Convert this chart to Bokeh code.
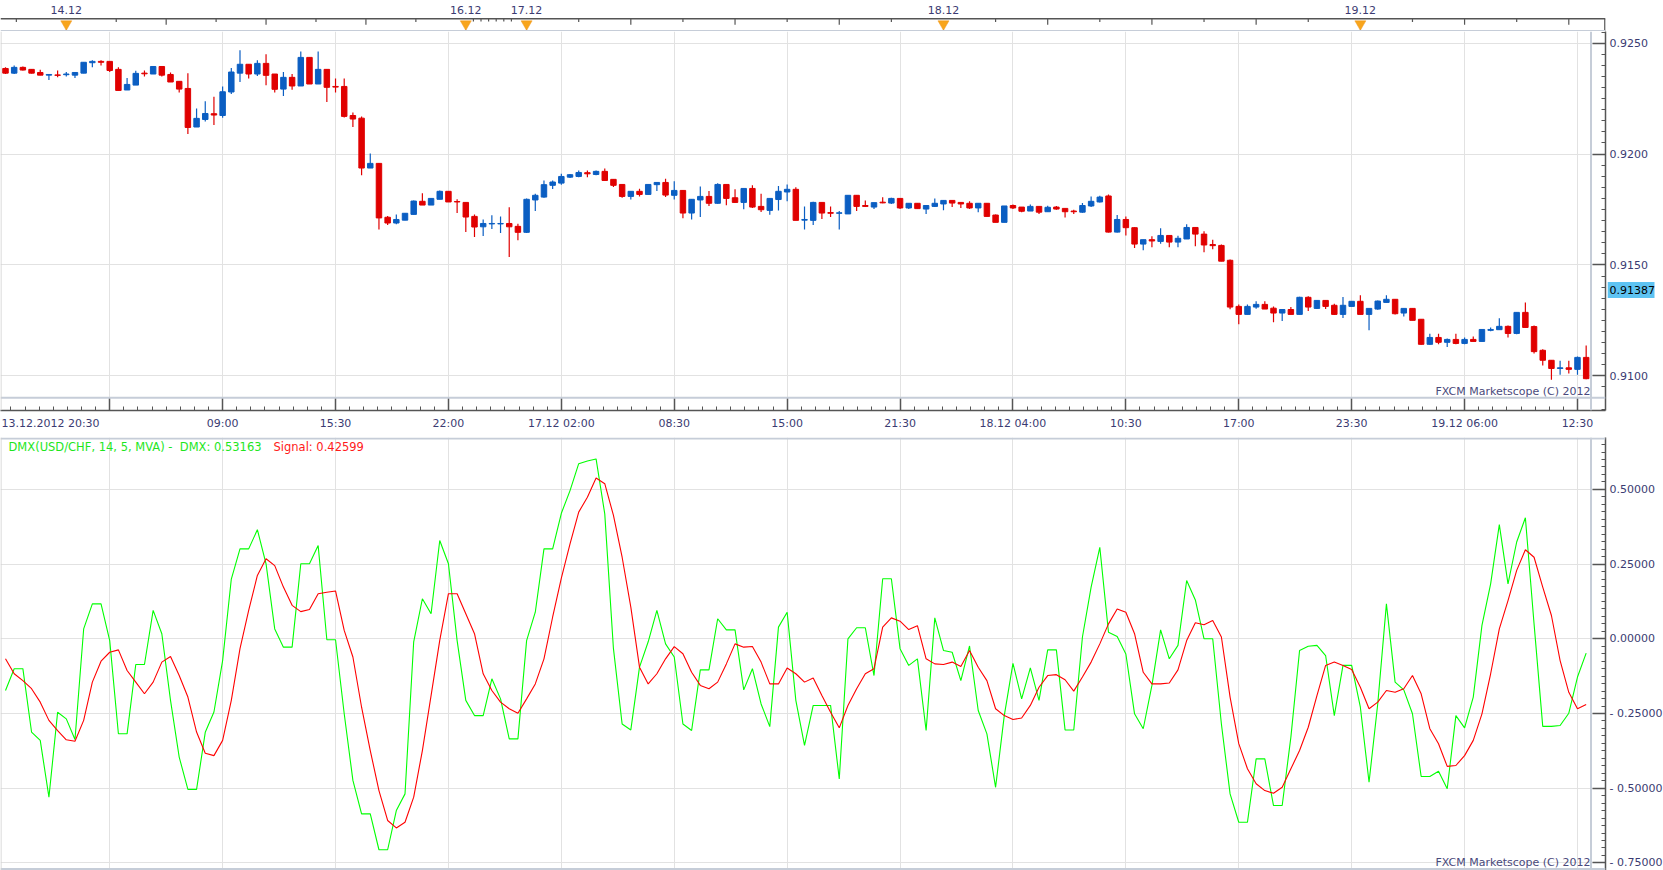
import numpy as np
from bokeh.plotting import figure
from bokeh.layouts import column, row
from bokeh.models import (Range1d, FixedTicker, Span, Label, ColumnDataSource, LinearAxis)
from bokeh.core.properties import value
from bokeh.embed import file_html
from bokeh.resources import INLINE

# ---------------- data (USD/CHF 30-min candles, 13.12.2012 20:30 ... 19.12.2012 13:00) ----------------
opens = [0.92386, 0.92365, 0.92391, 0.92382, 0.92368, 0.92356, 0.92357, 0.92358, 0.92356, 0.92365,
         0.92412, 0.92418, 0.92418, 0.92382, 0.92289, 0.92311, 0.92365, 0.92361, 0.92395, 0.92359,
         0.92328, 0.92296, 0.92122, 0.92156, 0.92182, 0.92174, 0.92280, 0.92365, 0.92405, 0.92361,
         0.92409, 0.92361, 0.92293, 0.92346, 0.92307, 0.92436, 0.92316, 0.92382, 0.92305, 0.92305,
         0.92174, 0.92162, 0.91937, 0.91958, 0.91715, 0.91689, 0.91702, 0.91728, 0.91787, 0.91770,
         0.91796, 0.91832, 0.91786, 0.91782, 0.91719, 0.91672, 0.91685, 0.91685, 0.91687, 0.91674,
         0.91647, 0.91793, 0.91806, 0.91859, 0.91869, 0.91896, 0.91899, 0.91916, 0.91908, 0.91922,
         0.91886, 0.91863, 0.91809, 0.91832, 0.91818, 0.91862, 0.91872, 0.91814, 0.91836, 0.91734,
         0.91793, 0.91809, 0.91778, 0.91863, 0.91803, 0.91782, 0.91845, 0.91764, 0.91746, 0.91795,
         0.91829, 0.91841, 0.91702, 0.91701, 0.91782, 0.91736, 0.91733, 0.91730, 0.91814, 0.91768,
         0.91761, 0.91783, 0.91779, 0.91800, 0.91757, 0.91778, 0.91752, 0.91764, 0.91775, 0.91791,
         0.91782, 0.91778, 0.91757, 0.91778, 0.91725, 0.91692, 0.91768, 0.91761, 0.91743, 0.91764,
         0.91740, 0.91761, 0.91755, 0.91743, 0.91738, 0.91766, 0.91784, 0.91811, 0.91648, 0.91705,
         0.91668, 0.91594, 0.91614, 0.91606, 0.91633, 0.91603, 0.91617, 0.91669, 0.91639, 0.91592,
         0.91588, 0.91521, 0.91313, 0.91277, 0.91310, 0.91322, 0.91305, 0.91283, 0.91299, 0.91277,
         0.91354, 0.91304, 0.91340, 0.91318, 0.91277, 0.91313, 0.91336, 0.91277, 0.91301, 0.91331,
         0.91345, 0.91283, 0.91304, 0.91255, 0.91142, 0.91173, 0.91151, 0.91164, 0.91146, 0.91164,
         0.91155, 0.91205, 0.91208, 0.91223, 0.91191, 0.91286, 0.91222, 0.91115, 0.91070, 0.91033,
         0.91036, 0.91029, 0.91083]
highs = [0.92392, 0.92400, 0.92395, 0.92384, 0.92380, 0.92359, 0.92377, 0.92370, 0.92368, 0.92414,
         0.92423, 0.92423, 0.92418, 0.92391, 0.92343, 0.92376, 0.92377, 0.92395, 0.92395, 0.92368,
         0.92328, 0.92365, 0.92206, 0.92238, 0.92259, 0.92305, 0.92388, 0.92468, 0.92405, 0.92423,
         0.92450, 0.92361, 0.92370, 0.92361, 0.92463, 0.92436, 0.92463, 0.92382, 0.92341, 0.92341,
         0.92188, 0.92170, 0.92003, 0.91960, 0.91721, 0.91728, 0.91733, 0.91791, 0.91823, 0.91800,
         0.91836, 0.91832, 0.91796, 0.91782, 0.91728, 0.91705, 0.91724, 0.91719, 0.91760, 0.91686,
         0.91800, 0.91821, 0.91881, 0.91881, 0.91911, 0.91910, 0.91926, 0.91926, 0.91926, 0.91935,
         0.91886, 0.91863, 0.91832, 0.91844, 0.91863, 0.91872, 0.91889, 0.91877, 0.91838, 0.91797,
         0.91854, 0.91833, 0.91868, 0.91863, 0.91841, 0.91845, 0.91859, 0.91821, 0.91800, 0.91856,
         0.91863, 0.91850, 0.91764, 0.91785, 0.91782, 0.91764, 0.91743, 0.91814, 0.91814, 0.91791,
         0.91781, 0.91805, 0.91803, 0.91800, 0.91778, 0.91778, 0.91768, 0.91800, 0.91791, 0.91791,
         0.91782, 0.91787, 0.91778, 0.91778, 0.91728, 0.91766, 0.91772, 0.91761, 0.91772, 0.91764,
         0.91767, 0.91766, 0.91755, 0.91749, 0.91779, 0.91809, 0.91812, 0.91818, 0.91725, 0.91719,
         0.91670, 0.91614, 0.91629, 0.91665, 0.91633, 0.91632, 0.91684, 0.91669, 0.91652, 0.91614,
         0.91592, 0.91525, 0.91322, 0.91322, 0.91336, 0.91336, 0.91313, 0.91300, 0.91310, 0.91356,
         0.91359, 0.91340, 0.91340, 0.91325, 0.91355, 0.91336, 0.91363, 0.91304, 0.91340, 0.91363,
         0.91345, 0.91304, 0.91304, 0.91255, 0.91190, 0.91190, 0.91168, 0.91190, 0.91173, 0.91177,
         0.91209, 0.91218, 0.91259, 0.91227, 0.91286, 0.91331, 0.91227, 0.91120, 0.91070, 0.91068,
         0.91068, 0.91087, 0.91137]
lows = [0.92361, 0.92361, 0.92377, 0.92363, 0.92356, 0.92334, 0.92347, 0.92350, 0.92343, 0.92365,
        0.92392, 0.92400, 0.92370, 0.92287, 0.92289, 0.92311, 0.92350, 0.92361, 0.92350, 0.92325,
        0.92278, 0.92090, 0.92122, 0.92147, 0.92131, 0.92164, 0.92271, 0.92325, 0.92341, 0.92352,
        0.92310, 0.92278, 0.92262, 0.92290, 0.92307, 0.92316, 0.92316, 0.92235, 0.92278, 0.92165,
        0.92122, 0.91905, 0.91937, 0.91660, 0.91680, 0.91684, 0.91702, 0.91728, 0.91770, 0.91770,
        0.91796, 0.91784, 0.91734, 0.91648, 0.91626, 0.91630, 0.91662, 0.91644, 0.91536, 0.91611,
        0.91644, 0.91743, 0.91803, 0.91842, 0.91862, 0.91892, 0.91896, 0.91896, 0.91905, 0.91881,
        0.91851, 0.91803, 0.91795, 0.91809, 0.91818, 0.91833, 0.91806, 0.91795, 0.91711, 0.91705,
        0.91716, 0.91766, 0.91776, 0.91769, 0.91780, 0.91751, 0.91757, 0.91739, 0.91726, 0.91746,
        0.91787, 0.91701, 0.91660, 0.91680, 0.91707, 0.91716, 0.91660, 0.91730, 0.91743, 0.91761,
        0.91752, 0.91778, 0.91775, 0.91752, 0.91752, 0.91754, 0.91730, 0.91761, 0.91747, 0.91761,
        0.91757, 0.91752, 0.91738, 0.91719, 0.91692, 0.91692, 0.91752, 0.91738, 0.91743, 0.91730,
        0.91740, 0.91749, 0.91714, 0.91730, 0.91735, 0.91761, 0.91782, 0.91646, 0.91646, 0.91633,
        0.91576, 0.91566, 0.91580, 0.91596, 0.91580, 0.91580, 0.91617, 0.91584, 0.91557, 0.91571,
        0.91517, 0.91300, 0.91232, 0.91277, 0.91302, 0.91301, 0.91241, 0.91247, 0.91277, 0.91277,
        0.91292, 0.91301, 0.91301, 0.91274, 0.91261, 0.91313, 0.91277, 0.91205, 0.91298, 0.91331,
        0.91277, 0.91268, 0.91250, 0.91140, 0.91140, 0.91142, 0.91130, 0.91142, 0.91142, 0.91155,
        0.91155, 0.91201, 0.91208, 0.91173, 0.91187, 0.91218, 0.91101, 0.91047, 0.90982, 0.91005,
        0.91010, 0.91005, 0.90985]
closes = [0.92365, 0.92391, 0.92379, 0.92365, 0.92356, 0.92359, 0.92355, 0.92361, 0.92368, 0.92414,
          0.92418, 0.92414, 0.92377, 0.92287, 0.92314, 0.92364, 0.92362, 0.92395, 0.92356, 0.92325,
          0.92293, 0.92120, 0.92161, 0.92183, 0.92176, 0.92281, 0.92370, 0.92405, 0.92361, 0.92409,
          0.92355, 0.92292, 0.92346, 0.92307, 0.92436, 0.92316, 0.92382, 0.92301, 0.92302, 0.92170,
          0.92158, 0.91937, 0.91958, 0.91712, 0.91689, 0.91705, 0.91733, 0.91788, 0.91770, 0.91800,
          0.91832, 0.91784, 0.91784, 0.91716, 0.91671, 0.91687, 0.91687, 0.91687, 0.91672, 0.91647,
          0.91796, 0.91814, 0.91862, 0.91874, 0.91899, 0.91907, 0.91917, 0.91911, 0.91922, 0.91881,
          0.91859, 0.91809, 0.91832, 0.91818, 0.91863, 0.91872, 0.91815, 0.91836, 0.91734, 0.91796,
          0.91809, 0.91778, 0.91863, 0.91800, 0.91782, 0.91845, 0.91761, 0.91749, 0.91800, 0.91832,
          0.91841, 0.91701, 0.91705, 0.91782, 0.91734, 0.91733, 0.91735, 0.91814, 0.91764, 0.91764,
          0.91781, 0.91780, 0.91800, 0.91757, 0.91778, 0.91754, 0.91768, 0.91778, 0.91791, 0.91779,
          0.91775, 0.91757, 0.91778, 0.91719, 0.91692, 0.91766, 0.91757, 0.91742, 0.91764, 0.91738,
          0.91760, 0.91752, 0.91740, 0.91740, 0.91768, 0.91787, 0.91806, 0.91648, 0.91705, 0.91668,
          0.91594, 0.91614, 0.91608, 0.91633, 0.91603, 0.91620, 0.91669, 0.91639, 0.91590, 0.91587,
          0.91517, 0.91310, 0.91277, 0.91313, 0.91322, 0.91301, 0.91283, 0.91299, 0.91277, 0.91354,
          0.91310, 0.91340, 0.91313, 0.91277, 0.91318, 0.91336, 0.91277, 0.91304, 0.91337, 0.91345,
          0.91280, 0.91304, 0.91250, 0.91142, 0.91173, 0.91151, 0.91164, 0.91146, 0.91164, 0.91155,
          0.91209, 0.91209, 0.91223, 0.91191, 0.91286, 0.91218, 0.91109, 0.91070, 0.91033, 0.91036,
          0.91029, 0.91083, 0.90987]

dmx = [-0.173, -0.100, -0.100, -0.312, -0.340, -0.530, -0.246, -0.268, -0.337, 0.033,
       0.117, 0.117, -0.006, -0.318, -0.318, -0.086, -0.086, 0.095, 0.017, -0.206,
       -0.396, -0.504, -0.504, -0.313, -0.245, -0.073, 0.200, 0.301, 0.301, 0.365,
       0.251, 0.033, -0.028, -0.028, 0.251, 0.251, 0.312, -0.003, -0.003, -0.251,
       -0.474, -0.586, -0.586, -0.706, -0.706, -0.575, -0.519, -0.010, 0.134, 0.084,
       0.329, 0.251, -0.006, -0.206, -0.257, -0.257, -0.134, -0.201, -0.335, -0.335,
       -0.006, 0.089, 0.301, 0.301, 0.420, 0.496, 0.586, 0.595, 0.602, 0.418,
       -0.033, -0.285, -0.305, -0.095, -0.010, 0.095, -0.017, -0.061, -0.285, -0.307,
       -0.104, -0.104, 0.067, 0.030, 0.030, -0.171, -0.100, -0.218, -0.294, 0.039,
       0.089, -0.206, -0.357, -0.223, -0.223, -0.223, -0.469, 0.000, 0.037, 0.037,
       -0.123, 0.201, 0.201, -0.033, -0.089, -0.067, -0.307, 0.070, -0.039, -0.045,
       -0.140, -0.024, -0.240, -0.318, -0.497, -0.257, -0.082, -0.201, -0.097, -0.206,
       -0.037, -0.037, -0.305, -0.305, 0.006, 0.173, 0.306, 0.022, 0.008, -0.051,
       -0.251, -0.301, -0.156, 0.030, -0.067, -0.022, 0.195, 0.130, 0.000, 0.000,
       -0.285, -0.519, -0.614, -0.614, -0.402, -0.402, -0.558, -0.558, -0.329, -0.039,
       -0.025, -0.022, -0.056, -0.257, -0.089, -0.089, -0.229, -0.480, -0.218, 0.117,
       -0.145, -0.171, -0.251, -0.461, -0.461, -0.443, -0.502, -0.257, -0.298, -0.195,
       0.045, 0.184, 0.382, 0.184, 0.324, 0.405, 0.050, -0.293, -0.293, -0.290,
       -0.249, -0.128, -0.048]
signal = [-0.067, -0.117, -0.140, -0.167, -0.212, -0.273, -0.307, -0.338, -0.343, -0.273,
          -0.145, -0.075, -0.045, -0.037, -0.106, -0.145, -0.184, -0.145, -0.078, -0.059,
          -0.123, -0.195, -0.312, -0.383, -0.391, -0.340, -0.206, -0.033, 0.095, 0.212,
          0.268, 0.245, 0.173, 0.112, 0.091, 0.098, 0.151, 0.156, 0.160, 0.028,
          -0.061, -0.229, -0.374, -0.508, -0.608, -0.633, -0.614, -0.530, -0.374, -0.190,
          -0.005, 0.151, 0.151, 0.084, 0.017, -0.117, -0.173, -0.212, -0.234, -0.249,
          -0.201, -0.151, -0.067, 0.073, 0.203, 0.318, 0.424, 0.474, 0.538, 0.519,
          0.413, 0.273, 0.106, -0.095, -0.151, -0.117, -0.067, -0.026, -0.050, -0.112,
          -0.156, -0.167, -0.145, -0.084, -0.017, -0.028, -0.026, -0.078, -0.151, -0.151,
          -0.098, -0.117, -0.145, -0.131, -0.190, -0.246, -0.298, -0.223, -0.167, -0.117,
          -0.100, 0.039, 0.070, 0.059, 0.031, 0.044, -0.067, -0.084, -0.086, -0.078,
          -0.093, -0.039, -0.095, -0.140, -0.234, -0.257, -0.270, -0.265, -0.223, -0.162,
          -0.123, -0.120, -0.137, -0.175, -0.128, -0.078, -0.017, 0.050, 0.100, 0.089,
          0.017, -0.112, -0.151, -0.151, -0.148, -0.104, -0.006, 0.054, 0.047, 0.061,
          0.006, -0.195, -0.351, -0.435, -0.485, -0.508, -0.517, -0.497, -0.435, -0.374,
          -0.296, -0.190, -0.089, -0.078, -0.089, -0.103, -0.162, -0.234, -0.212, -0.173,
          -0.179, -0.167, -0.123, -0.184, -0.301, -0.351, -0.427, -0.424, -0.391, -0.340,
          -0.251, -0.117, 0.033, 0.128, 0.229, 0.298, 0.273, 0.173, 0.078, -0.073,
          -0.179, -0.234, -0.220]

day_labels = ["14.12", "16.12", "17.12", "18.12", "19.12"]
day_start = [7, 53, 60, 108, 156]          # candle index where each day begins
time_tick_idx = [12, 25, 38, 51, 64, 77, 90, 103, 116, 129, 142, 155, 168, 181]
time_tick_labels = ["", "09:00", "15:30", "22:00", "17.12 02:00", "08:30", "15:00", "21:30",
                    "18.12 04:00", "10:30", "17:00", "23:30", "19.12 06:00", "12:30"]
first_time_label = "13.12.2012 20:30"
price_ticks = [0.9100, 0.9150, 0.9200, 0.9250]
dmx_ticks = [0.5, 0.25, 0.0, -0.25, -0.5, -0.75]
dmx_tick_labels = ["0.50000", "0.25000", "0.00000", "- 0.25000", "- 0.50000", "- 0.75000"]
last_price = 0.91387
legend_main = "DMX(USD/CHF, 14, 5, MVA) -\u00a0 DMX: 0.53163"
legend_signal = "Signal: 0.42599"
watermark = "FXCM Marketscope (C) 2012"

# ---------------- layout helpers ----------------
FW = 1605          # frame width (px)
CPX = 8.685        # px per candle
C0 = 5.0           # px of first candle centre
def xpx(px):
    return (px - C0) / CPX

PPU = 22173.0      # px per price unit
def ppx(py):       # page y px -> price
    return 0.9100 - (py - 375.3) / PPU

IPU = 298.8
def ipx(py):       # page y px -> dmx value
    return (638.3 - py) / IPU

FONT = "DejaVu Sans"
LBL = "#3b3b72"
AX = "#555555"
BORDER = "#c6cdd8"
GRID = "#e2e2e2"
UP = "#0b5ec2"
DOWN = "#e00000"

n = len(closes)
idx = list(range(n))
xr = Range1d(xpx(0), xpx(FW))


def tick_axis(ax, ticks, length, line=True):
    """axis drawing only tick marks (as minor ticks, so no labels are produced)"""
    ax.ticker = FixedTicker(ticks=[], minor_ticks=ticks)
    ax.major_tick_in = 0
    ax.major_tick_out = 0
    ax.minor_tick_in = length
    ax.minor_tick_out = 0
    ax.minor_tick_line_color = AX
    ax.minor_tick_line_width = 1.5 if length > 6 else 1
    ax.axis_line_color = AX if line else None
    ax.axis_line_width = 1.5


# ---------------- top date strip ----------------
t = figure(frame_width=FW, frame_height=31, x_range=xr, y_range=Range1d(31, 0),
           min_border_left=0, min_border_right=58, min_border_top=0, min_border_bottom=0,
           toolbar_location=None, output_backend="svg", x_axis_location=None,
           y_axis_location=None, outline_line_color=None)
t.grid.visible = False
t.add_layout(Span(location=18.3, dimension="width", line_color=AX, line_width=1.5))

d14, d16, d17 = day_start[0], day_start[1], day_start[2]
tx, tlen = [], []
step14 = (d16 - d14) / 8
for k in [-1, 1, 2, 3, 4, 5, 6, 7]:
    tx.append(d14 + k * step14); tlen.append(24.3 if k % 2 == 0 else 21.6)
for k in range(1, 7):
    tx.append(d16 + k * (d17 - d16) / 8); tlen.append(21.0)
for k in range(1, 21):
    pos = d17 + 6 * k
    if pos in day_start or pos >= n:
        continue
    tx.append(pos); tlen.append(24.3 if k % 2 == 0 else 21.6)
t.segment(x0=tx, x1=tx, y0=[18.3] * len(tx), y1=tlen, line_color=AX, line_width=1.2)
t.segment(x0=[xpx(FW - 0.6)], x1=[xpx(FW - 0.6)], y0=[18.3], y1=[31], line_color=AX, line_width=1.5)
t.segment(x0=day_start, x1=day_start, y0=[26] * len(day_start), y1=[31] * len(day_start),
          line_color="#9aa0aa", line_width=1)
t.scatter(x=day_start, y=[23.5] * len(day_start), marker="inverted_triangle", size=11,
          fill_color="#f8a51c", line_color="#f0961a", line_width=0.5)
t.text(x=day_start, y=[9] * len(day_start), text=day_labels, text_align="center",
       text_baseline="middle", text_font=value(FONT), text_font_size="11px", text_color=LBL)
t.add_layout(Span(location=30.6, dimension="width", line_color=BORDER, line_width=2))

# ---------------- price panel ----------------
p = figure(frame_width=FW, frame_height=379, x_range=xr, y_range=Range1d(ppx(410), ppx(31)),
           y_axis_location="right", min_border_left=0, min_border_top=0, min_border_right=2,
           min_border_bottom=27, toolbar_location=None, output_backend="svg",
           outline_line_color=None, background_fill_color="white", border_fill_color="white")

# bottom: long ticks + axis line, short ticks, then labels
tick_axis(p.xaxis[0], time_tick_idx, 13)
minor_x = [time_tick_idx[0] + 1.625 * k for k in range(-7, 110)]
ax_minor_x = LinearAxis()
tick_axis(ax_minor_x, minor_x, 4, line=False)
p.add_layout(ax_minor_x, "below")

first_pos = xpx(50)
lab_ticks = [first_pos] + time_tick_idx[1:]
lab_text = [first_time_label] + time_tick_labels[1:]
ax_lab = LinearAxis(ticker=FixedTicker(ticks=lab_ticks, minor_ticks=[]),
                    major_label_overrides=dict(zip(lab_ticks, lab_text)))
ax_lab.axis_line_color = None
ax_lab.major_tick_line_color = None
ax_lab.minor_tick_line_color = None
ax_lab.major_tick_in = 0
ax_lab.major_tick_out = 0
ax_lab.major_label_standoff = 6
ax_lab.major_label_text_font = FONT
ax_lab.major_label_text_font_size = "11px"
ax_lab.major_label_text_color = LBL
p.add_layout(ax_lab, "below")

# right: long ticks + axis line, short ticks (labels drawn in the side strip)
tick_axis(p.yaxis[0], price_ticks, 13)
ax_minor_y = LinearAxis()
tick_axis(ax_minor_y, [round(0.9080 + 0.0005 * k, 4) for k in range(40)], 4, line=False)
p.add_layout(ax_minor_y, "right")

p.xgrid.ticker = FixedTicker(ticks=time_tick_idx)
p.ygrid.ticker = FixedTicker(ticks=price_ticks)
p.grid.grid_line_color = GRID
p.grid.grid_line_width = 1

colors = [UP if c >= o else DOWN for o, c in zip(opens, closes)]
src = ColumnDataSource(dict(x=idx, o=opens, h=highs, l=lows, c=closes,
                            top=[max(o, c) for o, c in zip(opens, closes)],
                            bot=[min(o, c) for o, c in zip(opens, closes)], col=colors))
p.segment(x0="x", x1="x", y0="l", y1="h", line_color="col", line_width=1.2, source=src)
p.vbar(x="x", width=0.63, top="top", bottom="bot", fill_color="col", line_color="col",
       line_width=1, source=src)

p.add_layout(Span(location=xpx(1590.5), dimension="height", line_color=BORDER, line_width=2))
p.add_layout(Span(location=ppx(397.3), dimension="width", line_color=BORDER, line_width=2))
p.add_layout(Span(location=xpx(0.5), dimension="height", line_color="#cfcfcf", line_width=1))

p.add_layout(Label(x=xpx(1590), y=ppx(391), text=watermark, text_align="right",
                   text_baseline="middle", text_font=FONT, text_font_size="11px",
                   text_color="#4a4a7c"))

# side strip with price scale labels and the last-price tag
s = figure(frame_width=56, frame_height=379, x_range=Range1d(0, 56), y_range=p.y_range,
           min_border_left=0, min_border_right=0, min_border_top=0, min_border_bottom=27,
           toolbar_location=None, output_backend="svg", x_axis_location=None,
           y_axis_location=None, outline_line_color=None)
s.grid.visible = False
s.text(x=[2] * len(price_ticks), y=price_ticks, text=["%.4f" % v for v in price_ticks],
       text_baseline="middle", text_align="left", text_font=value(FONT),
       text_font_size="11px", text_color=LBL)
s.quad(left=[0], right=[47], top=[last_price + 8 / PPU], bottom=[last_price - 8 / PPU],
       fill_color="#5ec3f2", line_color=None)
s.text(x=[2], y=[last_price], text=["%.5f" % last_price], text_baseline="middle",
       text_align="left", text_font=value(FONT), text_font_size="11px", text_color="#000000")

# ---------------- DMX indicator panel ----------------
q = figure(frame_width=FW, frame_height=433, x_range=xr, y_range=Range1d(ipx(870), ipx(437)),
           y_axis_location="right", x_axis_location=None, min_border_left=0, min_border_top=0,
           min_border_right=58, min_border_bottom=0, toolbar_location=None,
           output_backend="svg", outline_line_color=None)
q.xgrid.ticker = FixedTicker(ticks=time_tick_idx)
qt = FixedTicker(ticks=dmx_ticks, minor_ticks=[round(-0.8 + 0.025 * k, 3) for k in range(62)])
q.yaxis.ticker = qt
q.ygrid.ticker = FixedTicker(ticks=dmx_ticks)
q.yaxis.major_label_overrides = dict(zip(dmx_ticks, dmx_tick_labels))
ax = q.yaxis[0]
ax.major_tick_in = 13
ax.major_tick_out = 0
ax.minor_tick_in = 4
ax.minor_tick_out = 0
ax.axis_line_color = AX
ax.axis_line_width = 1.5
ax.major_tick_line_color = AX
ax.major_tick_line_width = 1.5
ax.minor_tick_line_color = AX
ax.major_label_text_font = FONT
ax.major_label_text_font_size = "11px"
ax.major_label_text_color = LBL
ax.major_label_standoff = 4
q.grid.grid_line_color = GRID
q.grid.grid_line_width = 1

q.line(idx, dmx, line_color="#00ff00", line_width=1.1)
q.line(idx, signal, line_color="#ff0000", line_width=1.1)

q.add_layout(Span(location=ipx(438), dimension="width", line_color=BORDER, line_width=2))
q.add_layout(Span(location=xpx(1590.5), dimension="height", line_color=BORDER, line_width=2))
q.add_layout(Span(location=ipx(868.5), dimension="width", line_color=BORDER, line_width=2))
q.add_layout(Span(location=xpx(0.5), dimension="height", line_color="#cfcfcf", line_width=1))

q.add_layout(Label(x=xpx(8), y=ipx(446.5), text=legend_main, text_align="left",
                   text_baseline="middle", text_font=FONT, text_font_size="11.5px",
                   text_color="#1ee61e"))
q.add_layout(Label(x=xpx(273), y=ipx(446.5), text=legend_signal, text_align="left",
                   text_baseline="middle", text_font=FONT, text_font_size="11.5px",
                   text_color="#ff1a1a"))
q.add_layout(Label(x=xpx(1590), y=ipx(862), text=watermark, text_align="right",
                   text_baseline="middle", text_font=FONT, text_font_size="11px",
                   text_color="#4a4a7c"))

layout = column(t, row(p, s, spacing=0), q, spacing=0)
open("out.html", "w").write(file_html(layout, INLINE))
